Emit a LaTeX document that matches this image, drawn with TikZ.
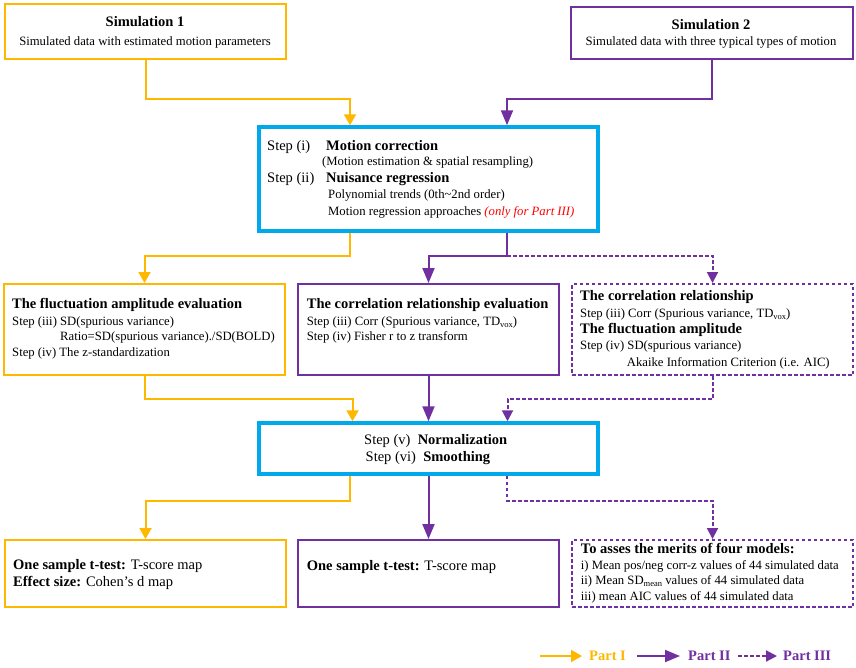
\documentclass[tikz,border=0pt]{standalone}
\usepackage{fontspec}
\setmainfont{Liberation Serif}
\usetikzlibrary{arrows.meta,calc}
\definecolor{cY}{RGB}{255,184,0}
\definecolor{cP}{RGB}{112,48,160}
\definecolor{cB}{RGB}{0,168,236}
\definecolor{cR}{RGB}{255,0,0}
\newcommand{\fn}{\fontsize{12.7}{14}\selectfont}
\newcommand{\fl}{\fontsize{14.5}{16}\selectfont}
\newcommand{\fb}{\fontsize{14.5}{16}\selectfont\bfseries}
\newcommand{\mysub}[1]{\raisebox{-2.2pt}{\fontsize{8.5}{9}\selectfont #1}}
\begin{document}
\begin{tikzpicture}[x=1pt,y=-1pt,
  ybox/.style={rectangle, draw=cY, line width=2pt, inner sep=0pt},
  pbox/.style={rectangle, draw=cP, line width=2pt, inner sep=0pt},
  dbox/.style={rectangle, draw=cP, line width=2pt, inner sep=0pt, dash pattern=on 3.5pt off 2.5pt},
  bbox/.style={rectangle, draw=cB, line width=3.5pt, inner sep=0pt},
  txt/.style={anchor=base west, inner sep=0pt, font=\fn},
  ctxt/.style={anchor=base, inner sep=0pt, font=\fn},
  yarr/.style={draw=cY, line width=2pt, -{Triangle[width=12pt,length=11pt]}},
  parr/.style={draw=cP, line width=2pt, -{Triangle[width=12pt,length=15pt]}},
  darr/.style={draw=cP, line width=2pt, dash pattern=on 3.5pt off 2.5pt, -{Triangle[width=11pt,length=11pt]}}
]
\useasboundingbox (0,0) rectangle (856,667);

% boxes
\node[ybox, minimum width=281pt, minimum height=55pt] (sim1) at (145.5,31.5) {};
\node[pbox, minimum width=282pt, minimum height=52pt] (sim2) at (712,33) {};
\node[bbox, minimum width=339pt, minimum height=104pt] (steps) at (428.5,179) {};
\node[ybox, minimum width=281pt, minimum height=91pt] (fluct) at (144.5,329.5) {};
\node[pbox, minimum width=261pt, minimum height=91pt] (corr) at (428.5,329.5) {};
\node[dbox, minimum width=281pt, minimum height=91pt] (r2) at (712.5,329.5) {};
\node[bbox, minimum width=339pt, minimum height=51pt] (norm) at (428.5,448.5) {};
\node[ybox, minimum width=281pt, minimum height=67pt] (out1) at (145.5,573.5) {};
\node[pbox, minimum width=261pt, minimum height=67pt] (out2) at (428.5,573.5) {};
\node[dbox, minimum width=281pt, minimum height=67pt] (out3) at (712.5,573.5) {};

% texts: simulation boxes
\node[ctxt, font=\fb] (s1t) at (145,26.7) {Simulation 1};
\node[ctxt] (s1s) at (145,45) {Simulated data with estimated motion parameters};
\node[ctxt, font=\fb] (s2t) at (711,29.3) {Simulation 2};
\node[ctxt] (s2s) at (711,45) {Simulated data with three typical types of motion};

% steps box
\node[txt, font=\fl] (st1) at (267,150) {Step (i)};
\node[txt, font=\fb] (st1b) at (326,150) {Motion correction};
\node[txt] (st1c) at (322,165.7) {(Motion estimation \& spatial resampling)};
\node[txt, font=\fl] (st2) at (267,182.7) {Step (ii)};
\node[txt, font=\fb] (st2b) at (326,182.7) {Nuisance regression};
\node[txt] (st2c) at (328,198.5) {Polynomial trends (0th\textasciitilde 2nd order)};
\node[txt] (st2d) at (328,215.7) {Motion regression approaches \textcolor{cR}{\itshape (only for Part III)}};

% fluct box
\node[txt, font=\fb] (f1) at (12,308.3) {The fluctuation amplitude evaluation};
\node[txt] (f2) at (12,325) {Step (iii) SD(spurious variance)};
\node[txt] (f3) at (60,340.7) {Ratio=SD(spurious variance)./SD(BOLD)};
\node[txt] (f4) at (12,356.7) {Step (iv) The z-standardization};

% corr box
\node[txt, font=\fb] (c1) at (306.7,308.3) {The correlation relationship evaluation};
\node[txt] (c2) at (306.7,325) {Step (iii) Corr (Spurious variance, TD\mysub{vox})};
\node[txt] (c3) at (306.7,340.7) {Step (iv) Fisher r to z transform};

% right dashed box
\node[txt, font=\fb] (r1) at (580,300) {The correlation relationship};
\node[txt] (r2a) at (580,317.7) {Step (iii) Corr (Spurious variance, TD\mysub{vox})};
\node[txt, font=\fb] (r2b) at (580,333.3) {The fluctuation amplitude};
\node[txt] (r2c) at (580,349.3) {Step (iv) SD(spurious variance)};
\node[txt] (r2d) at (626.7,366.7) {Akaike Information Criterion (i.e. AIC)};

% norm box
\node[txt, font=\fl] (n1) at (364,444) {Step (v)\ \ \textbf{Normalization}};
\node[txt, font=\fl] (n2) at (365.5,461.7) {Step (vi)\ \ \textbf{Smoothing}};

% outputs
\node[txt, font=\fl] (o1a) at (13,569.3) {\textbf{One sample t-test:} T-score map};
\node[txt, font=\fl] (o1b) at (13,586) {\textbf{Effect size:} Cohen’s d map};
\node[txt, font=\fl] (o2a) at (306.7,570) {\textbf{One sample t-test:} T-score map};
\node[txt, font=\fb] (o3a) at (580.7,553.3) {To asses the merits of four models:};
\node[txt] (o3b) at (580.7,569) {i) Mean pos/neg corr-z values of 44 simulated data};
\node[txt] (o3c) at (580.7,584.3) {ii) Mean SD\mysub{mean} values of 44 simulated data};
\node[txt] (o3d) at (580.7,600) {iii) mean AIC values of 44 simulated data};

% connectors
\draw[yarr] (sim1.south) -- ++(0,39) -| ([xshift=-78.5pt]steps.north);
\draw[parr] (sim2.south) -- ++(0,39) -| ([xshift=78.5pt]steps.north);

\draw[yarr] ([xshift=-78.5pt]steps.south) -- ++(0,23) -| (fluct.north);
\draw[parr] ([xshift=78.5pt]steps.south) -- ++(0,23) -| (corr.north);
\coordinate (j1) at ([xshift=78.5pt,yshift=-23pt]steps.south);
\draw[darr] (j1) -| (r2.north);

\draw[yarr] (fluct.south) -- ++(0,23) -| ([xshift=-76pt]norm.north);
\draw[parr] (corr.south) -- (norm.north);
\draw[darr] (r2.south) -- ++(0,23) -| ([xshift=79pt]norm.north);

\draw[yarr] ([xshift=-78.5pt]norm.south) -- ++(0,25) -| (out1.north);
\draw[parr] (norm.south) -- (out2.north);
\draw[darr] ([xshift=78.5pt]norm.south) -- ++(0,25) -| (out3.north);

% legend
\node[txt, font=\fb, text=cY] (l1) at (589,660.7) {Part I};
\node[txt, font=\fb, text=cP] (l2) at (688,660.7) {Part II};
\node[txt, font=\fb, text=cP] (l3) at (783,660.7) {Part III};
\coordinate (l1s) at (540,656);
\coordinate (l2s) at (637,656);
\coordinate (l3s) at (738,656);
\draw[yarr] (l1s) -- ($(l1.west |- l1s)+(-7,0)$);
\draw[parr] (l2s) -- ($(l2.west |- l2s)+(-8,0)$);
\draw[darr] (l3s) -- ($(l3.west |- l3s)+(-6,0)$);
\end{tikzpicture}
\end{document}
